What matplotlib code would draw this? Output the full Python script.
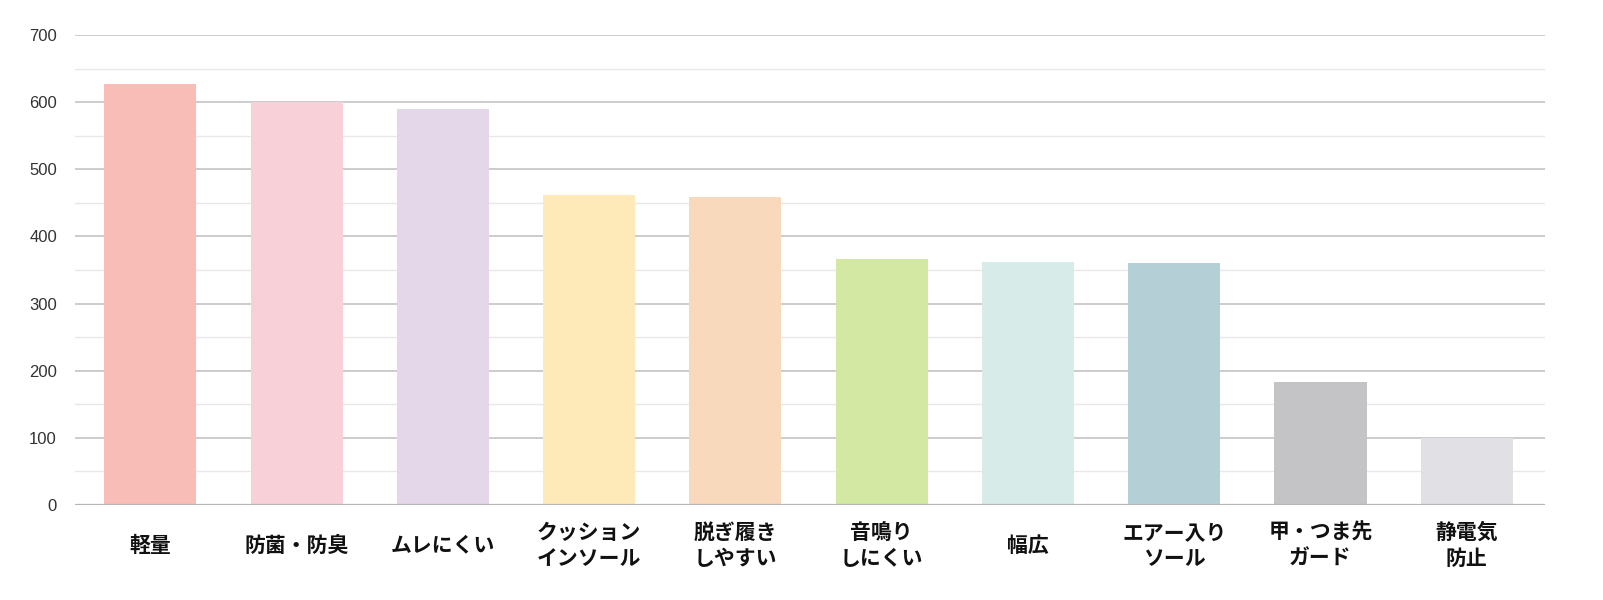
import numpy as np
import matplotlib.pyplot as plt
from matplotlib.ticker import MultipleLocator

categories = ['軽量', '防菌・防臭', 'ムレにくい', 'クッション\nインソール', '脱ぎ履き\nしやすい',
              '音鳴り\nしにくい', '幅広', 'エアー入り\nソール', '甲・つま先\nガード', '静電気\n防止']
values = [627, 600, 590, 462, 459, 367, 362, 361, 183, 100]
colors = ['#f8bdb6', '#f8d0d8', '#e4d7ea', '#fdeab8', '#f9d9bc',
          '#d3e8a2', '#d7ebe8', '#b5cfd6', '#c4c4c7', '#e1e1e5']

plt.rcParams['font.family'] = ['Noto Sans CJK JP', 'DejaVu Sans']

fig = plt.figure(figsize=(16.03, 6.0), dpi=100)
ax = fig.add_axes([75 / 1603, 1 - 505 / 600, 1470 / 1603, 470 / 600])

x = np.arange(len(categories))
ax.bar(x, values, width=0.63, color=colors, zorder=3)

ax.set_ylim(0, 700)
ax.set_xlim(-0.515, 9.535)
ax.yaxis.set_major_locator(MultipleLocator(100))
ax.yaxis.set_minor_locator(MultipleLocator(50))
ax.grid(axis='y', which='major', color='#c4c4c4', linewidth=1.2, zorder=0)
ax.grid(axis='y', which='minor', color='#e8e8e8', linewidth=1.0, zorder=0)
ax.axhline(0, color='#b5b5b5', linewidth=1.6, zorder=4)

for s in ax.spines.values():
    s.set_visible(False)

ax.set_xticks(x)
ax.set_xticklabels(categories, fontsize=15, fontweight='bold', linespacing=1.3, color='#111111')
for lab in ax.get_xticklabels():
    lab.set_va('center')
ax.tick_params(axis='x', length=0, pad=29)
ax.tick_params(axis='y', which='both', length=0, pad=13)
for lab in ax.get_yticklabels():
    lab.set_fontfamily(['Liberation Sans', 'DejaVu Sans'])
    lab.set_fontsize(12)
    lab.set_color('#333333')

fig.savefig('out.png', dpi=100, facecolor='white')
